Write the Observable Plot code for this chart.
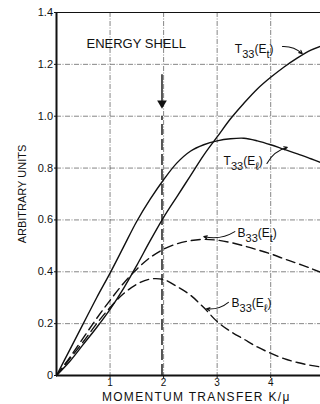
<!DOCTYPE html>
<html><head><meta charset="utf-8">
<script src="https://cdn.jsdelivr.net/npm/d3@7"></script>
<script src="https://cdn.jsdelivr.net/npm/@observablehq/plot@0.6"></script>
<style>body{margin:0;background:#fff} svg{display:block}</style>
</head><body><div id="chart"></div>
<script>
// momentum transfer K/mu
const k = [0,0.25,0.5,0.75,1,1.25,1.5,1.75,2,2.25,2.5,2.75,3,3.25,3.5,3.75,4,4.25,4.5,4.75,4.93];
const t33Et = [0,0.055,0.12,0.185,0.255,0.335,0.425,0.52,0.61,0.69,0.77,0.85,0.92,0.99,1.05,1.105,1.15,1.19,1.225,1.255,1.27];
const t33El = [0,0.1,0.2,0.3,0.395,0.495,0.595,0.68,0.755,0.82,0.865,0.89,0.905,0.913,0.915,0.905,0.89,0.872,0.855,0.836,0.822];
const b33Et = [0,0.07,0.145,0.22,0.29,0.355,0.41,0.455,0.487,0.508,0.52,0.525,0.522,0.513,0.5,0.485,0.469,0.45,0.432,0.413,0.398];
const b33El = [0,0.065,0.13,0.2,0.262,0.315,0.352,0.372,0.37,0.343,0.31,0.262,0.208,0.17,0.14,0.11,0.086,0.065,0.05,0.039,0.033];
const seriesNames = ["T33(Et)","T33(El)","B33(Et)","B33(El)"];
const seriesValues = [t33Et, t33El, b33Et, b33El];
const seriesDashed = [false, false, true, true];

const xTicks = [1,2,3,4];
const yTicks = [0,0.2,0.4,0.6,0.8,1.0,1.2,1.4];
const energyShellK = 1.97;
const energyShellTop = 1.0;
const energyArrow = {k: 1.97, from: 1.16, to: 1.05};

// curve labels (data units) and their pointer arrows
const labels = [
  {text: "T_33(E_t)", k: 3.33, v: 1.257},
  {text: "T_33(E_ℓ)", k: 3.12, v: 0.825},
  {text: "B_33(E_t)", k: 3.38, v: 0.55},
  {text: "B_33(E_ℓ)", k: 3.27, v: 0.28}
];
const pointers = [
  {k1: 4.22, v1: 1.269, k2: 4.59, v2: 1.241},
  {k1: 3.93, v1: 0.818, k2: 4.31, v2: 0.88},
  {k1: 3.33, v1: 0.555, k2: 2.75, v2: 0.536},
  {k1: 3.21, v1: 0.282, k2: 2.80, v2: 0.257}
];
const shellTitle = {text: "ENERGY SHELL", k: 0.56, v: 1.28};
const yTitle = {text: "ARBITRARY UNITS", k: -0.64, v: 0.70};
const xTitle = {text: "MOMENTUM TRANSFER K/μ", k: 2.61, v: -0.083};

const rows = seriesNames.flatMap((s, j) => k.map((kk, i) => ({series: s, k: kk, v: seriesValues[j][i], dashed: seriesDashed[j]})));

const ink = "#111";
const gridStyle = {stroke: "#333", strokeWidth: 0.7, strokeOpacity: 0.85, strokeDasharray: "5,1.5,1,1.5"};

const svg = Plot.plot({
  width: 320, height: 404,
  marginLeft: 56, marginRight: 0, marginTop: 12, marginBottom: 29,
  style: {fontFamily: "Liberation Sans, Arial, sans-serif", fontSize: "11px", color: ink, background: "#fff"},
  x: {domain: [0, 4.93]},
  y: {domain: [0, 1.4]},
  marks: [
    Plot.gridX(xTicks, gridStyle),
    Plot.gridY(yTicks.filter(d => d > 0 && d < 1.4), gridStyle),
    Plot.ruleY([1.4], {stroke: ink, strokeWidth: 1.2}),
    Plot.ruleX([0], {stroke: ink, strokeWidth: 2}),
    Plot.ruleY([0], {stroke: ink, strokeWidth: 2}),
    Plot.axisX({ticks: xTicks, tickSize: 3, tickPadding: 0, label: null, fontSize: 10, stroke: ink,
      tickFormat: d => String(d)}),
    Plot.axisY({ticks: yTicks, tickSize: 2, tickPadding: 1.5, label: null, fontSize: 11, stroke: ink,
      tickFormat: d => d === 0 ? "0" : d.toFixed(1)}),
    Plot.line(rows.filter(d => !d.dashed), {x: "k", y: "v", z: "series", curve: "catmull-rom", stroke: ink, strokeWidth: 1.4}),
    Plot.line(rows.filter(d => d.dashed), {x: "k", y: "v", z: "series", curve: "catmull-rom", stroke: ink, strokeWidth: 1.4, strokeDasharray: "9,5"}),
    Plot.ruleX([energyShellK], {y1: 0, y2: energyShellTop, stroke: ink, strokeWidth: 1.4, strokeDasharray: "11,4"}),
    Plot.ruleX([energyArrow], {x: "k", y1: "from", y2: "to", stroke: ink, strokeWidth: 1.4}),
    Plot.dot([energyArrow], {x: "k", y: "to", symbol: "triangle", rotate: 180, r: 3.6, fill: ink, stroke: "none"}),
    Plot.text([shellTitle], {x: "k", y: "v", text: "text", textAnchor: "start", fontSize: 13, fill: ink}),
    Plot.text([yTitle], {x: "k", y: "v", text: "text", rotate: -90, textAnchor: "middle", fontSize: 11, fill: ink}),
    Plot.text([xTitle], {x: "k", y: "v", text: "text", textAnchor: "middle", fontSize: 12, fill: ink}),
    Plot.text(labels, {x: "k", y: "v", text: "text", textAnchor: "start", fontSize: 12, fill: ink}),
    Plot.arrow(pointers, {x1: "k1", y1: "v1", x2: "k2", y2: "v2", bend: true, stroke: ink, strokeWidth: 1.1, headLength: 5, headAngle: 50})
  ]
});

// render "_xx" parts as subscripts; widen the x title's spacing
d3.select(svg).selectAll("text").each(function() {
  const t = this.textContent;
  if (t === xTitle.text) { d3.select(this).style("letter-spacing", "1.3px"); return; }
  if (!t.includes("_")) return;
  const el = d3.select(this);
  el.text("");
  let shift = 0;
  t.split(/(_[^()\s]+)/).forEach(p => {
    if (!p) return;
    const sub = p[0] === "_";
    const target = sub ? 5 : 0;
    el.append("tspan").attr("dy", target - shift).attr("font-size", sub ? 11 : null).text(sub ? p.slice(1) : p);
    shift = target;
  });
});

document.getElementById("chart").appendChild(svg);
</script>
</body></html>
